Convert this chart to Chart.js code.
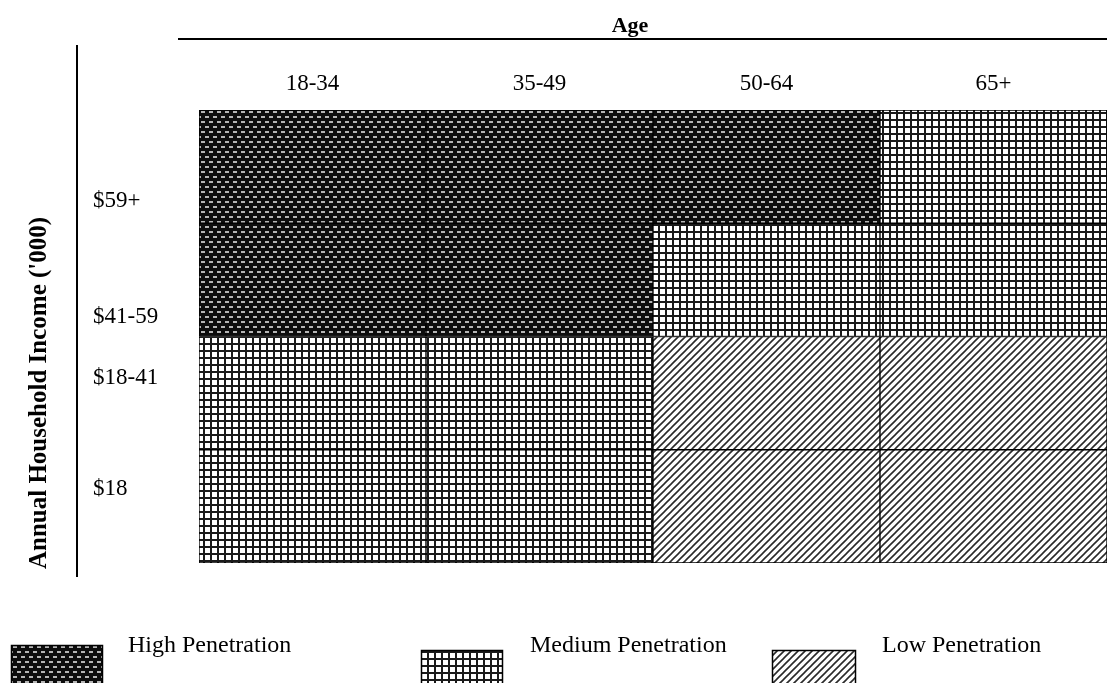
<!DOCTYPE html>
<html>
<head>
<meta charset="utf-8">
<script src="https://cdn.jsdelivr.net/npm/chart.js@4.4.1/dist/chart.umd.min.js"></script>
<style>
  html, body { margin: 0; padding: 0; background: #fff; }
  #wrap { width: 1107px; height: 683px; }
</style>
</head>
<body>
<div id="wrap"><canvas id="chart" width="1107" height="683"></canvas></div>
<script>
const ageGroups = ["18-34", "35-49", "50-64", "65+"];
// income bands, bottom row first
const incomeLabels = ["$18", "$18-41", "$41-59", "$59+"];
const incomeTickValues = [0.65, 1.63, 2.17, 3.2];
// penetration per age group: 3 = high, 2 = medium, 1 = low
const income18 = [2, 2, 1, 1];
const income18to41 = [2, 2, 1, 1];
const income41to59 = [3, 3, 2, 2];
const income59plus = [3, 3, 3, 2];
const levelNames = ["High Penetration", "Medium Penetration", "Low Penetration"];

const SERIF = "'Liberation Serif', 'DejaVu Serif', serif";

function makePattern(level) {
  const c = document.createElement("canvas");
  const g = c.getContext("2d");
  if (level === 3) {
    c.width = 8; c.height = 10;
    g.fillStyle = "#0d0d0d";
    g.fillRect(0, 0, 8, 10);
    g.fillStyle = "#b5b5b5";
    g.fillRect(1, 1, 4, 2);
    g.fillRect(5, 6, 3, 2);
    g.fillRect(0, 6, 1, 2);
  } else if (level === 2) {
    c.width = 7; c.height = 7;
    g.fillStyle = "#ffffff";
    g.fillRect(0, 0, 7, 7);
    g.fillStyle = "#1a1a1a";
    g.fillRect(0, 0, 7, 2);
    g.fillRect(0, 0, 2, 7);
  } else {
    c.width = 7; c.height = 7;
    g.fillStyle = "#ffffff";
    g.fillRect(0, 0, 7, 7);
    g.strokeStyle = "#2a2a2a";
    g.lineWidth = 1.6;
    g.beginPath();
    g.moveTo(-1, 8); g.lineTo(8, -1);
    g.moveTo(-1, 1); g.lineTo(1, -1);
    g.moveTo(6, 8); g.lineTo(8, 6);
    g.stroke();
  }
  return g.createPattern(c, "repeat");
}

const ctx = document.getElementById("chart").getContext("2d");
const patterns = { 3: makePattern(3), 2: makePattern(2), 1: makePattern(1) };

const rows = [income18, income18to41, income41to59, income59plus];

const decorations = {
  id: "decorations",
  afterDraw(chart) {
    const c = chart.ctx;
    c.save();
    c.fillStyle = "#000";
    c.strokeStyle = "#000";
    // Age header and line
    c.font = "bold 22px " + SERIF;
    c.textAlign = "center";
    c.textBaseline = "alphabetic";
    c.fillText("Age", 630, 32);
    c.lineWidth = 2;
    c.beginPath();
    c.moveTo(178, 39); c.lineTo(1107, 39);
    c.stroke();
    // y title and line
    c.beginPath();
    c.moveTo(77, 45); c.lineTo(77, 577);
    c.stroke();
    c.save();
    c.translate(40, 393);
    c.rotate(-Math.PI / 2);
    c.textBaseline = "middle";
    c.font = "bold 25px " + SERIF;
    c.fillText("Annual Household Income ('000)", 0, 0);
    c.restore();
    // legend
    const items = [
      { level: 3, box: [11, 645, 92, 40], text: [128, 652] },
      { level: 2, box: [421, 650, 82, 35], text: [530, 652] },
      { level: 1, box: [772, 650, 84, 35], text: [882, 652] },
    ];
    c.font = "24px " + SERIF;
    c.textAlign = "left";
    items.forEach((it, i) => {
      const [x, y, w, h] = it.box;
      c.fillStyle = patterns[it.level];
      c.fillRect(x, y, w, h);
      c.lineWidth = 1.5;
      c.strokeRect(x + 0.5, y + 0.5, w - 1, h - 1);
      c.fillStyle = "#000";
      c.fillText(levelNames[i], it.text[0], it.text[1]);
    });
    c.restore();
  },
};

new Chart(ctx, {
  type: "bar",
  plugins: [decorations],
  data: {
    labels: ageGroups,
    datasets: rows.map((levels, i) => ({
      label: incomeLabels[i],
      data: levels.map(() => 1),
      backgroundColor: levels.map((l) => patterns[l]),
      borderColor: "#000",
      borderWidth: 1,
      borderSkipped: false,
      barPercentage: 1,
      categoryPercentage: 1,
    })),
  },
  options: {
    responsive: false,
    animation: false,
    layout: {
      padding: { left: 93, top: 0, right: 0, bottom: 120 },
    },
    plugins: {
      legend: { display: false },
      tooltip: { enabled: false },
    },
    scales: {
      x: {
        position: "top",
        stacked: true,
        afterFit: (s) => { s.height = 110; },
        grid: { display: false, drawTicks: false },
        border: { display: false },
        ticks: {
          padding: 12,
          color: "#000",
          font: { size: 23, family: SERIF },
        },
      },
      y: {
        stacked: true,
        min: 0,
        max: 4,
        afterFit: (s) => { s.width = 106; },
        afterBuildTicks: (s) => { s.ticks = incomeTickValues.map((v) => ({ value: v })); },
        grid: { display: false, drawTicks: false },
        border: { display: false },
        ticks: {
          crossAlign: "far",
          color: "#000",
          font: { size: 23, family: SERIF },
          callback: (v, i) => incomeLabels[i],
        },
      },
    },
  },
});
</script>
</body>
</html>
